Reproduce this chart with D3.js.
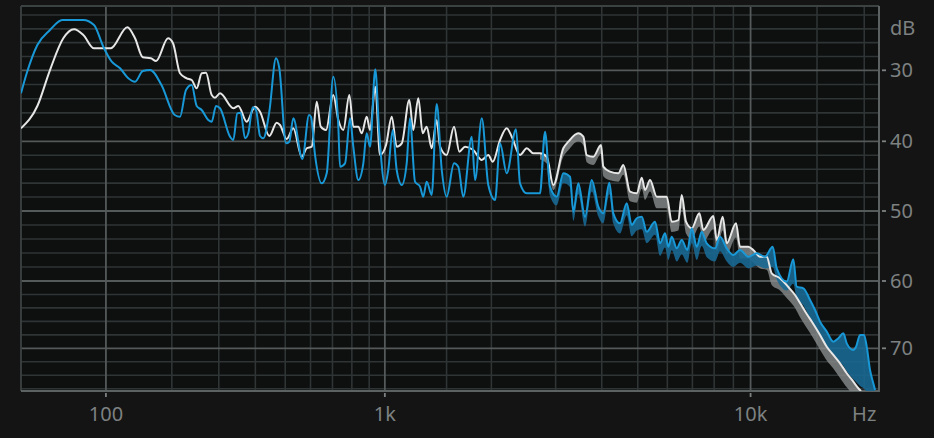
<!DOCTYPE html>
<html><head><meta charset="utf-8">
<script src="https://cdn.jsdelivr.net/npm/d3@7"></script>
<style>
html,body{margin:0;padding:0;background:#141414;}
svg{display:block;}
text{font-family:"Noto Sans",sans-serif;}
</style></head><body>
<svg id="chart" width="934" height="438"></svg>
<script>
// ---------- DATA ----------
const blueFreq=[18,22.3,30.7,41.4,52.6,73.9,85.8,96.8,107.3,118.2,129.6,139.3,151,162.6,181.5,205.4,215.4,227.3,238.9,249.4,260.3,275.1,283,293.2,303,328.4,337.1,347.9,357.3,369.5,379,392,402.1,414.5,425,444.5,467.2,478.8,502.9,515.1,530.2,566,593.6,602.1,619.4,649.4,672.5,704,729,737.6,763.5,790.1,808,836.2,865,885.1,905.1,937.9,961.6,1001,1023,1054,1082,1119,1156,1181,1221,1262,1289,1318,1362,1407,1454,1501,1574,1618,1671,1764,1802,1881,1961,2047,2113,2205,2338,2398,2502,2608,2720,2807,2896,3021,3148,3283,3351,3457,3605,3758,3916,4039,4193,4297,4480,4670,4816,4968,5124,5284,5562,5736,5916,6037,6165,6358,6556,6786,6972,7189,7414,7645,8044,8294,8641,8997,9375,9863,10383,10923,11448,11733,12471,12982,13257,13803,14378,14823,15281,15918,16568,17084,17611,17981,18715,19027,19495,19975,20306,20718,21135,21358];
const blueDb=[-33.24,-30.42,-26.34,-24.17,-22.72,-22.72,-23.45,-26.59,-28.76,-29.71,-31.13,-31.61,-30.10,-29.96,-32.07,-36.30,-36.54,-32.77,-32.07,-35.03,-35.59,-37.00,-37.24,-35.03,-35.35,-39.35,-39.82,-36.06,-35.97,-39.58,-38.87,-35.21,-35.59,-39.25,-39.58,-35.83,-28.26,-29.71,-40.29,-40.06,-36.76,-42.53,-36.30,-36.58,-41.97,-46.03,-44.59,-30.90,-37.94,-43.64,-43.16,-36.76,-40.77,-45.55,-43.16,-38.87,-40.77,-29.86,-38.41,-46.27,-44.12,-38.41,-44.12,-46.27,-43.16,-36.76,-45.79,-46.51,-47.95,-45.79,-47.70,-34.75,-44.12,-47.95,-43.16,-43.64,-47.95,-39.35,-45.55,-36.76,-46.27,-48.42,-40.29,-44.59,-38.31,-46.03,-47.46,-47.46,-47.46,-38.65,-46.51,-47.95,-44.59,-45.09,-50.10,-46.03,-50.81,-45.55,-49.38,-50.33,-45.94,-50.33,-51.76,-48.90,-52.00,-51.04,-50.81,-52.96,-51.53,-54.61,-53.19,-55.10,-53.67,-55.33,-54.14,-55.57,-52.47,-55.10,-52.96,-54.61,-55.33,-53.67,-55.33,-56.29,-55.57,-56.53,-56.04,-56.53,-55.10,-58.19,-60.10,-56.90,-60.85,-61.09,-62.82,-64.31,-66.05,-67.53,-69.02,-68.51,-67.77,-69.26,-70.25,-69.76,-68.02,-68.02,-69.76,-73.22,-75.20,-76.19];

const whiteFreq=[18,30.7,41.4,53.6,64.2,73.9,85.8,106,128.2,139.3,151,163.7,172.4,193.1,202.2,215.4,228.7,238.9,249.4,260.3,269.9,283,290.8,303,337.1,350.7,374.4,399.1,414.5,444.5,469.7,481.2,505.5,530.2,563.5,584,605.1,626.9,644.8,669.2,704,729,754.6,786.3,808,836.2,855.7,885.1,905.1,937.9,968.1,1008,1047,1082,1119,1176,1207,1248,1284,1318,1362,1407,1438,1501,1574,1629,1690,1782,1881,1961,2017,2113,2205,2276,2398,2502,2608,2720,2837,2957,3148,3248,3457,3567,3643,3795,3982,4039,4211,4433,4573,4766,4968,5124,5229,5393,5621,5978,6165,6421,6556,6732,6972,7305,7487,7960,8129,8432,8641,9148,9375,9863,10168,10594,11037,11380,11972,12593,13120,13527,14092,14555,15281,15918,16568,17261,17981,18715,19296,19614];
const whiteDb=[-38.17,-35.03,-29.96,-25.37,-24.07,-24.89,-26.82,-26.82,-23.78,-25.37,-28.12,-28.26,-28.65,-25.37,-26.09,-30.42,-31.13,-31.37,-32.54,-30.42,-30.34,-33.48,-33.86,-33.24,-35.35,-35.03,-37.24,-35.13,-35.83,-39.25,-37.38,-37.70,-39.68,-38.17,-42.21,-41.00,-40.77,-34.42,-37.94,-38.41,-33.48,-37.00,-38.41,-33.48,-37.94,-37.94,-38.87,-36.54,-38.41,-32.31,-41.97,-40.53,-36.54,-40.77,-40.29,-34.18,-38.41,-33.94,-38.87,-37.94,-41.00,-37.00,-40.77,-41.97,-37.94,-41.49,-40.77,-41.25,-42.68,-41.97,-42.93,-39.82,-38.17,-39.35,-41.97,-41.00,-41.72,-41.72,-42.21,-46.27,-41.00,-40.06,-38.87,-39.35,-41.97,-42.21,-40.53,-43.64,-44.36,-44.59,-43.40,-47.23,-47.46,-45.23,-46.99,-45.55,-47.95,-47.95,-51.53,-51.29,-47.70,-51.53,-52.47,-50.33,-52.71,-50.71,-54.14,-50.81,-54.61,-51.76,-55.10,-55.10,-55.57,-56.53,-56.53,-58.90,-59.61,-60.89,-62.08,-63.27,-64.90,-66.09,-68.02,-69.76,-70.99,-72.23,-73.71,-74.96,-75.94,-76.34];

// lower edge of the shaded range under each curve (same frequencies as the curve, from 2720 Hz up)
const whiteLowFreq=[2720,2837,2957,3148,3248,3457,3567,3643,3795,3982,4039,4211,4433,4573,4766,4968,5124,5229,5393,5621,5978,6165,6421,6556,6732,6972,7305,7487,7960,8129,8432,8641,9148,9375,9863,10168,10594,11037,11380,11972,12593,13120,13527,14092,14555,15281,15918,16568,17261,17981,18715,19296,19614];
const whiteLowDb=[-42.6,-43.2,-47.0,-42.2,-41.3,-40.0,-40.6,-43.0,-43.4,-41.8,-45.0,-45.6,-45.8,-44.8,-48.6,-48.8,-46.8,-48.4,-47.2,-49.6,-49.6,-53.0,-52.8,-49.6,-53.2,-54.0,-52.2,-54.4,-52.6,-55.8,-52.8,-56.2,-53.8,-56.8,-56.8,-57.4,-58.2,-58.4,-60.6,-61.4,-62.8,-64.0,-65.4,-67.0,-68.2,-70.2,-71.8,-73.0,-74.4,-75.8,-76.8,-77,-77];
const blueLowFreq=[2720,2807,2896,3021,3148,3283,3351,3457,3605,3758,3916,4039,4193,4297,4480,4670,4816,4968,5124,5284,5562,5736,5916,6037,6165,6358,6556,6786,6972,7189,7414,7645,8044,8294,8641,8997,9375,9863,10383,10923,11448,11733,12471,12982,13257,13803,14378,14823,15281,15918,16568,17084,17611,17981,18715,19027,19495,19975,20306,20718,21135,21358];
const blueLowDb=[-48.6,-40.2,-47.8,-49.2,-46.0,-46.6,-51.4,-47.6,-52.2,-47.2,-50.8,-51.8,-47.6,-51.8,-53.2,-50.6,-53.6,-52.8,-52.6,-54.6,-53.4,-56.4,-55.2,-57.0,-55.6,-57.2,-56.2,-57.4,-54.6,-57.0,-55.0,-56.6,-57.2,-55.8,-57.2,-58.0,-57.4,-58.2,-57.8,-58.2,-58.0,-59.8,-61.4,-60.4,-62.6,-63.6,-65.6,-67.0,-68.2,-69.8,-71.0,-71.8,-72.6,-73.4,-74.6,-75.0,-75.6,-76.0,-76.5,-77,-77,-77];

const xTickValues=[100,1000,10000];
const xTickLabels=["100","1k","10k"];
const xUnitAt=20000, xUnitLabel="Hz";
const minorFreqs=[200,300,400,500,600,700,800,900,1500,2000,3000,4000,5000,6000,7000,8000,9000,15000,20000];
const yTickValues=[-30,-40,-50,-60,-70];
const yTickLabels=["30","40","50","60","70"];
const yUnitLabel="dB";

// ---------- LAYOUT ----------
const L=21,R=879,T=6,B=391;
const svg=d3.select("#chart");
const x=d3.scaleSymlog().constant(104).domain([18,21880]).range([L,R]);
const y=d3.scaleLinear().domain([-22,-30,-40,-50,-60,-70]).range([15,70.3,141.3,211,281,348.3]);

svg.append("rect").attr("width",934).attr("height",438).attr("fill","#141414");
svg.append("rect").attr("x",L).attr("y",T).attr("width",R-L).attr("height",B-T).attr("fill","#0e0f0f");

const defs=svg.append("defs");
defs.append("clipPath").attr("id","plot").append("rect").attr("x",L).attr("y",T).attr("width",R-L).attr("height",B-T);

const grid=svg.append("g");
const minorDb=d3.range(-22,-77,-2).filter(v=>v%10!==0);
grid.selectAll(".hm").data(minorDb).join("line")
  .attr("x1",L).attr("x2",R).attr("y1",d=>y(d)).attr("y2",d=>y(d))
  .attr("stroke","#2f3434").attr("stroke-width",1.6);
grid.selectAll(".vm").data(minorFreqs).join("line")
  .attr("x1",d=>x(d)).attr("x2",d=>x(d)).attr("y1",T).attr("y2",B)
  .attr("stroke","#2f3434").attr("stroke-width",1.6);
grid.selectAll(".hM").data(yTickValues).join("line")
  .attr("x1",L).attr("x2",R).attr("y1",d=>y(d)).attr("y2",d=>y(d))
  .attr("stroke","#545959").attr("stroke-width",1.8);
grid.selectAll(".vM").data(xTickValues).join("line")
  .attr("x1",d=>x(d)).attr("x2",d=>x(d)).attr("y1",T).attr("y2",B)
  .attr("stroke","#545959").attr("stroke-width",1.8);
grid.append("line").attr("x1",L).attr("x2",R).attr("y1",T).attr("y2",T).attr("stroke","#3c4141").attr("stroke-width",1.8);
grid.append("line").attr("x1",L).attr("x2",L).attr("y1",T).attr("y2",B).attr("stroke","#3c4141").attr("stroke-width",1.8);
grid.append("line").attr("x1",L).attr("x2",R+1).attr("y1",B).attr("y2",B).attr("stroke","#5c6161").attr("stroke-width",2);
grid.append("line").attr("x1",R).attr("x2",R).attr("y1",T).attr("y2",B).attr("stroke","#5c6161").attr("stroke-width",2);

const toPts=(fs,ds)=>fs.map((f,i)=>({f:f,db:ds[i]}));
const blue=toPts(blueFreq,blueDb), white=toPts(whiteFreq,whiteDb);
function withLow(series,lf,ld){
  const m=new Map(lf.map((f,i)=>[f,ld[i]]));
  return series.filter(d=>m.has(d.f)).map(d=>({f:d.f,db:d.db,low:m.get(d.f)}));
}
const curve=d3.curveMonotoneX;
const line=d3.line().x(d=>x(d.f)).y(d=>y(d.db)).curve(curve);
const area=d3.area().x(d=>x(d.f)).y0(d=>y(d.low)).y1(d=>y(d.db)).curve(curve);

const plot=svg.append("g").attr("clip-path","url(#plot)");
plot.append("path").attr("d",area(withLow(white,whiteLowFreq,whiteLowDb))).attr("fill","#8a8c8c").attr("opacity",0.8);
plot.append("path").attr("d",area(withLow(blue,blueLowFreq,blueLowDb))).attr("fill","#1a6892").attr("opacity",0.9);
plot.append("path").attr("d",line(white)).attr("fill","none").attr("stroke","#e6e6e6").attr("stroke-width",2).attr("stroke-linejoin","round");
plot.append("path").attr("d",line(blue)).attr("fill","none").attr("stroke","#1898d6").attr("stroke-width",2).attr("stroke-linejoin","round");

const txt="#7d8181";
const ax=svg.append("g");
ax.selectAll(".xt").data(xTickValues).join("line")
  .attr("x1",d=>x(d)).attr("x2",d=>x(d)).attr("y1",393).attr("y2",397).attr("stroke",txt).attr("stroke-width",1.8);
ax.selectAll(".xl").data(xTickValues).join("text")
  .attr("x",d=>x(d)).attr("y",421).attr("text-anchor","middle").attr("font-size",20).attr("fill",txt)
  .text((d,i)=>xTickLabels[i]);
ax.append("text").attr("x",x(xUnitAt)).attr("y",421).attr("text-anchor","middle").attr("font-size",20).attr("fill",txt).text(xUnitLabel);
ax.selectAll(".yt").data(yTickValues).join("line")
  .attr("x1",882).attr("x2",886).attr("y1",d=>y(d)).attr("y2",d=>y(d)).attr("stroke",txt).attr("stroke-width",1.8);
ax.selectAll(".yl").data(yTickValues).join("text")
  .attr("x",890).attr("y",d=>y(d)+7).attr("font-size",20).attr("fill",txt)
  .text((d,i)=>yTickLabels[i]);
ax.append("text").attr("x",890).attr("y",35).attr("font-size",20).attr("fill",txt).text(yUnitLabel);
</script>
</body></html>
